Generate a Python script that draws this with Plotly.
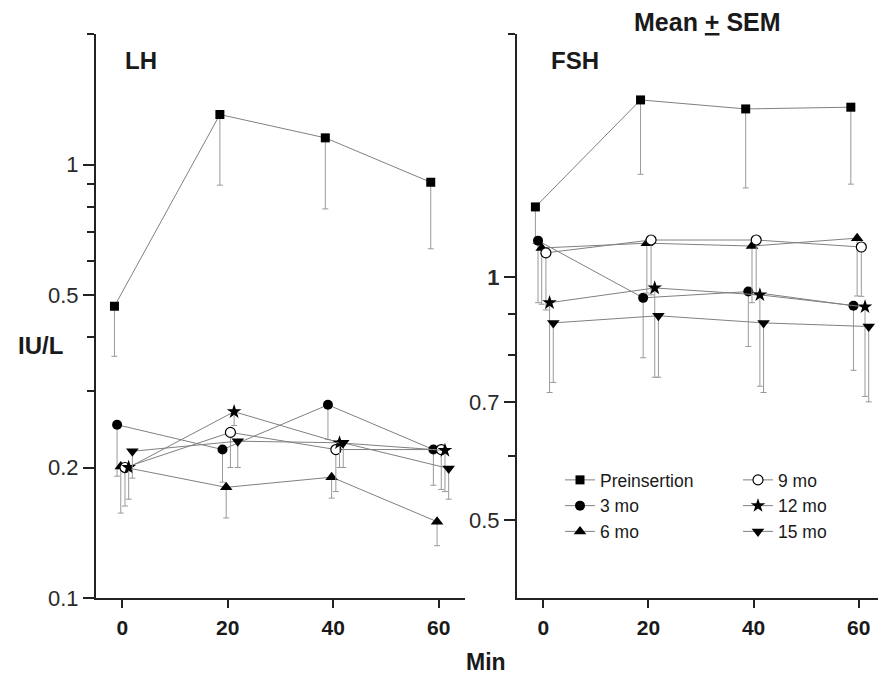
import numpy as np
import plotly.graph_objects as go

# ---------------- data ----------------
times = [0, 20, 40, 60]
series = ["Preinsertion", "3 mo", "6 mo", "9 mo", "12 mo", "15 mo"]

# LH (IU/L) means and lower end of SEM bar
lh_pre = [0.471, 1.304, 1.152, 0.910]
lh_pre_lo = [0.361, 0.896, 0.790, 0.639]
lh_3 = [0.251, 0.220, 0.279, 0.220]
lh_3_lo = [0.191, 0.185, 0.232, 0.182]
lh_6 = [0.201, 0.180, 0.190, 0.150]
lh_6_lo = [0.157, 0.153, 0.170, 0.132]
lh_9 = [0.200, 0.241, 0.220, 0.220]
lh_9_lo = [0.163, 0.200, 0.176, 0.178]
lh_12 = [0.200, 0.269, 0.228, 0.219]
lh_12_lo = [0.169, 0.250, 0.200, 0.176]
lh_15 = [0.218, 0.230, 0.228, 0.199]
lh_15_lo = [0.189, 0.200, 0.200, 0.169]

# FSH (IU/L)
fsh_pre = [1.221, 1.657, 1.615, 1.623]
fsh_pre_lo = [1.100, 1.340, 1.289, 1.303]
fsh_3 = [1.109, 0.942, 0.959, 0.921]
fsh_3_lo = [0.929, 0.794, 0.820, 0.766]
fsh_6 = [1.086, 1.101, 1.092, 1.117]
fsh_6_lo = [0.925, 0.955, 0.929, 0.947]
fsh_9 = [1.071, 1.111, 1.111, 1.089]
fsh_9_lo = [0.910, 0.950, 0.950, 0.946]
fsh_12 = [0.929, 0.969, 0.950, 0.918]
fsh_12_lo = [0.719, 0.751, 0.732, 0.711]
fsh_15 = [0.877, 0.895, 0.877, 0.868]
fsh_15_lo = [0.740, 0.751, 0.719, 0.700]

x_ticktext = ["0", "20", "40", "60"]
lh_tickvals = [0.1, 0.2, 0.5, 1]
lh_ticktext = ["0.1", "0.2", "0.5", "1"]
fsh_tickvals = [0.5, 0.7, 1]
fsh_ticktext = ["0.5", "0.7", "<b>1</b>"]

# ---------------- style ----------------
jitter = {"Preinsertion": -1.5, "3 mo": -1.0, "6 mo": -0.3,
          "9 mo": 0.5, "12 mo": 1.2, "15 mo": 1.9}
symbols = {"Preinsertion": ("square", 9), "3 mo": ("circle", 10),
           "6 mo": ("triangle-up", 11), "9 mo": ("circle", 10),
           "12 mo": ("star", 11), "15 mo": ("triangle-down", 11)}

lh = {"Preinsertion": (lh_pre, lh_pre_lo), "3 mo": (lh_3, lh_3_lo),
      "6 mo": (lh_6, lh_6_lo), "9 mo": (lh_9, lh_9_lo),
      "12 mo": (lh_12, lh_12_lo), "15 mo": (lh_15, lh_15_lo)}
fsh = {"Preinsertion": (fsh_pre, fsh_pre_lo), "3 mo": (fsh_3, fsh_3_lo),
       "6 mo": (fsh_6, fsh_6_lo), "9 mo": (fsh_9, fsh_9_lo),
       "12 mo": (fsh_12, fsh_12_lo), "15 mo": (fsh_15, fsh_15_lo)}

FONT = "Arial, Liberation Sans, sans-serif"
fig = go.Figure()


def add(data, xa, ya, showlegend):
    for name in series:
        mean, lo = data[name]
        sym, size = symbols[name]
        if name == "9 mo":
            marker = dict(symbol=sym, size=size, color="white",
                          line=dict(color="black", width=1.2))
        else:
            marker = dict(symbol=sym, size=size, color="black",
                          line=dict(color="black", width=0))
        leg = "legend" if name in ("Preinsertion", "3 mo", "6 mo") else "legend2"
        fig.add_trace(go.Scatter(
            x=[t + jitter[name] for t in times], y=mean,
            mode="lines+markers", name=name,
            line=dict(color="#808080", width=1),
            marker=marker,
            error_y=dict(type="data", symmetric=False,
                         array=[0] * len(mean),
                         arrayminus=[m - l for m, l in zip(mean, lo)],
                         color="#999999", thickness=1, width=3),
            xaxis=xa, yaxis=ya, showlegend=showlegend, legend=leg,
        ))


add(lh, "x", "y", False)
add(fsh, "x2", "y2", True)

# page has an 8px body margin, so the figure is shrunk by that amount
OFF = 8
W, H = 886 - OFF, 675 - OFF
L, R, T, B = 96 - OFF, 1, 34 - OFF, 675 - 598
pw = W - L - R
ph = H - T - B


def px(x):  # page pixel -> paper
    return (x - OFF - L) / pw


def py(y):
    return 1 - (y - OFF - T) / ph


xcommon = dict(range=[-5, 65], tickvals=times,
               ticktext=["<b>%s</b>" % t for t in x_ticktext],
               ticks="outside", ticklen=8,
               tickwidth=1.5, tickcolor="#222", showline=True, linewidth=2,
               linecolor="#222", showgrid=False, zeroline=False,
               tickfont=dict(family=FONT, size=21, color="#1a1a1a"),
               ticklabelstandoff=2)
ycommon = dict(type="log", ticks="outside", ticklen=11, tickwidth=1.5,
               tickcolor="#222", showline=True, linewidth=2, linecolor="#222",
               showgrid=False, zeroline=False,
               tickfont=dict(family=FONT, size=22, color="#2a2a2a"),
               ticklabelstandoff=0)

fig.update_layout(
    width=W, height=H,
    margin=dict(l=L, r=R, t=T, b=B),
    paper_bgcolor="white", plot_bgcolor="white",
    font=dict(family=FONT, color="#1a1a1a"),
    xaxis=dict(domain=[0, (465 - 96) / pw], **xcommon),
    xaxis2=dict(domain=[(517 - 96) / pw, 1], anchor="y2", **xcommon),
    yaxis=dict(range=[np.log10(0.1), np.log10(2)], tickvals=lh_tickvals,
               ticktext=lh_ticktext,
               minor=dict(tickvals=[0.3, 0.4, 0.6, 0.7, 0.8, 0.9, 2],
                          ticks="outside", ticklen=7, tickwidth=1.5,
                          tickcolor="#222", showgrid=False),
               **ycommon),
    yaxis2=dict(range=[np.log10(0.4), np.log10(2)], tickvals=fsh_tickvals,
                ticktext=fsh_ticktext, anchor="x2",
                minor=dict(tickvals=[0.6, 0.8, 0.9, 2],
                           ticks="outside", ticklen=7, tickwidth=1.5,
                           tickcolor="#222", showgrid=False),
                **ycommon),
    legend=dict(x=px(560), y=py(462), xanchor="left", yanchor="top",
                bgcolor="rgba(0,0,0,0)", font=dict(family=FONT, size=17.5),
                tracegroupgap=0, itemwidth=30),
    legend2=dict(x=px(738), y=py(462), xanchor="left", yanchor="top",
                 bgcolor="rgba(0,0,0,0)", font=dict(family=FONT, size=17.5),
                 tracegroupgap=0, itemwidth=30),
    showlegend=True,
)

ann = [
    ("<b>LH</b>", 141, 61, 24),
    ("<b>FSH</b>", 575, 61, 24),
    ("<b>Mean <span style='text-decoration:underline'>+</span> SEM</b>", 707, 22, 25),
    ("<b>IU/L</b>", 40, 345, 24),
    ("<b>Min</b>", 486, 662, 23),
]
for text, x, y, s in ann:
    fig.add_annotation(text=text, xref="paper", yref="paper", x=px(x), y=py(y),
                       xanchor="center", yanchor="middle", showarrow=False,
                       font=dict(family=FONT, size=s, color="#1a1a1a"))

fig.write_html("out.html")
